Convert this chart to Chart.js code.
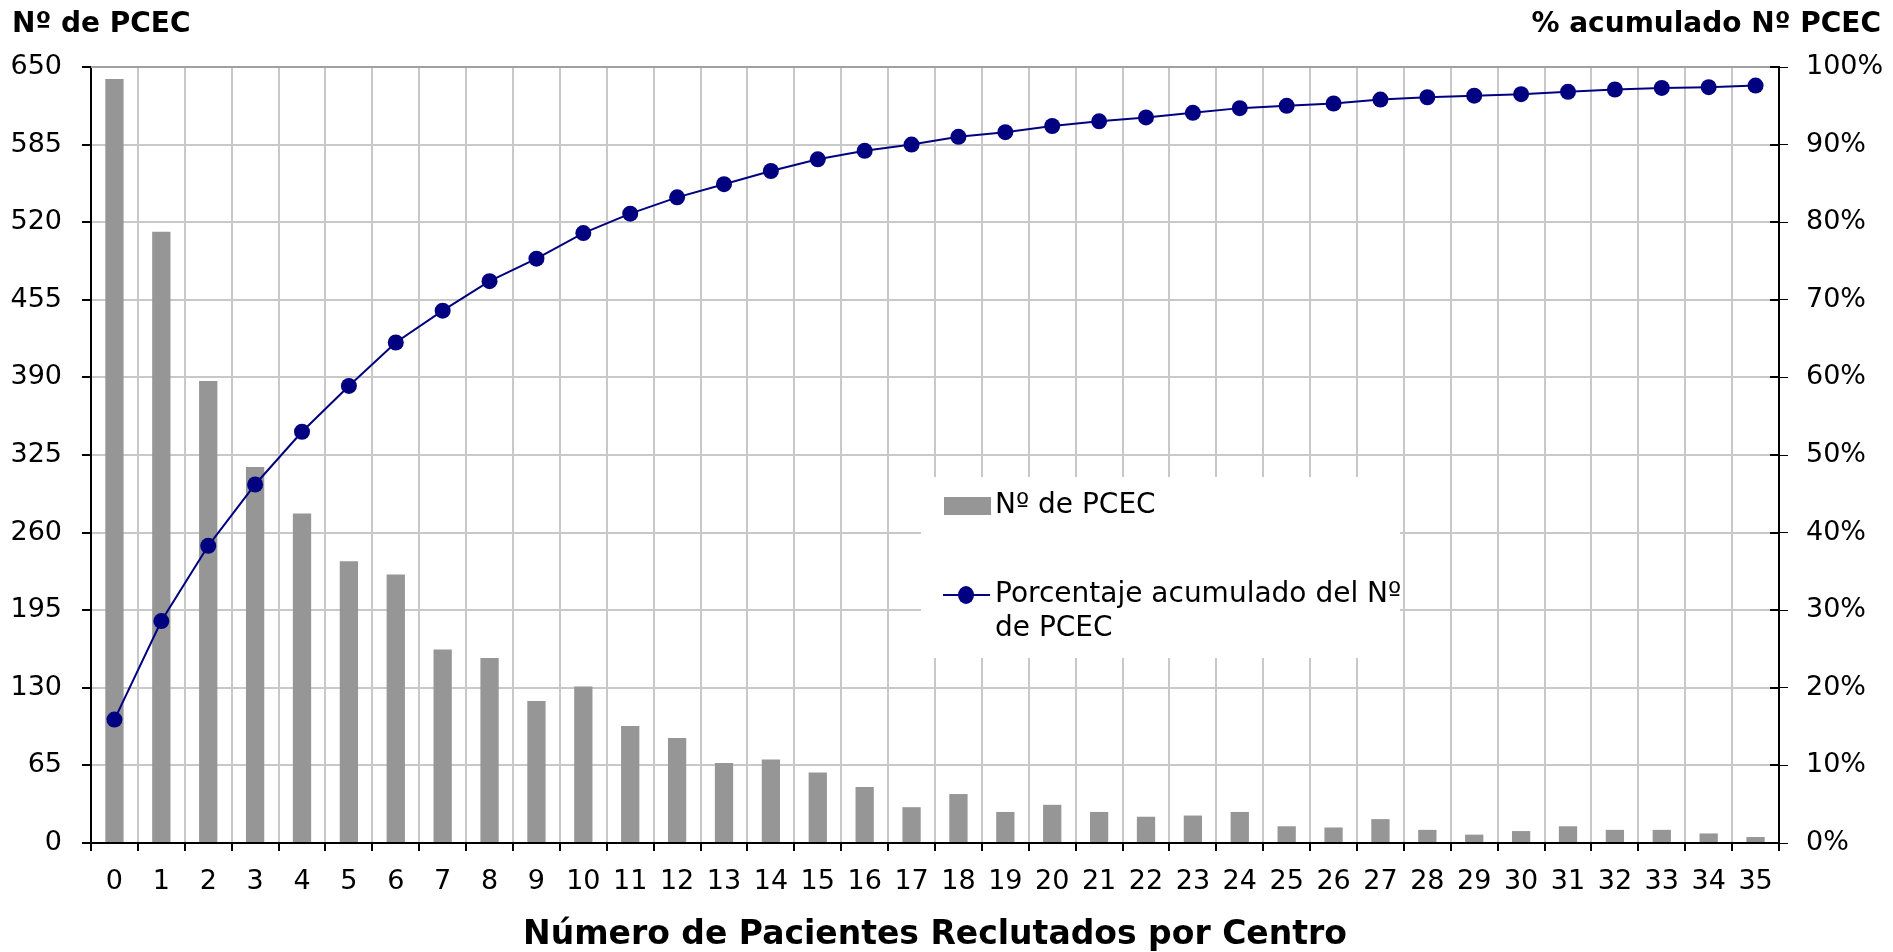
<!DOCTYPE html>
<html>
<head>
<meta charset="utf-8">
<title>Nº de PCEC según número de pacientes reclutados por centro</title>
<script src="https://cdn.jsdelivr.net/npm/chart.js@4.4.1/dist/chart.umd.min.js"></script>
<style>
  html, body { margin: 0; padding: 0; background: #fff; }
  canvas { display: block; }
</style>
</head>
<body>
<canvas id="myChart" width="1893" height="952"></canvas>
<script>
  "use strict";

  /* Data */
  const categorias = ["0", "1", "2", "3", "4", "5", "6", "7", "8", "9", "10", "11",
    "12", "13", "14", "15", "16", "17", "18", "19", "20", "21", "22", "23",
    "24", "25", "26", "27", "28", "29", "30", "31", "32", "33", "34", "35"];

  const numPCEC = [640, 512, 387, 315, 276, 236, 225, 162, 155, 119, 131, 98,
    88, 67, 70, 59, 47, 30, 41, 26, 32, 26, 22, 23,
    26, 14, 13, 20, 11, 7, 10, 14, 11, 11, 8, 5];

  const porcentajeAcumulado = [15.9, 28.6, 38.3, 46.2, 53.0, 58.9, 64.5, 68.6, 72.4, 75.3, 78.6, 81.1,
    83.2, 84.9, 86.6, 88.1, 89.2, 90.0, 91.0, 91.6, 92.4, 93.0, 93.5, 94.1,
    94.7, 95.0, 95.3, 95.8, 96.1, 96.3, 96.5, 96.8, 97.1, 97.3, 97.4, 97.6];

  const ticksPCEC = [0, 65, 130, 195, 260, 325, 390, 455, 520, 585, 650];
  const ticksPorcentaje = [0, 10, 20, 30, 40, 50, 60, 70, 80, 90, 100];

  const tituloIzq = "Nº de PCEC";
  const tituloDer = "% acumulado Nº PCEC";
  const tituloX = "Número de Pacientes Reclutados por Centro";

  const fuente = "'DejaVu Sans', Verdana, sans-serif";
  const gris = "#969696";
  const azul = "#000080";
  const rejilla = "#c8c8c8";

  /* Axis titles drawn above the plot, horizontally */
  const titulosEjes = {
    id: "titulosEjes",
    afterDraw(chart) {
      const ctx = chart.ctx;
      const area = chart.chartArea;
      ctx.save();
      // darker top frame line, like the original
      ctx.strokeStyle = "#a0a0a0";
      ctx.lineWidth = 2;
      ctx.beginPath();
      ctx.moveTo(area.left, area.top);
      ctx.lineTo(area.right, area.top);
      ctx.stroke();

      ctx.fillStyle = "#000";
      ctx.font = "bold 28px " + fuente;
      ctx.textBaseline = "middle";
      ctx.textAlign = "left";
      ctx.fillText(tituloIzq, 12, 25);
      ctx.textAlign = "right";
      ctx.fillText(tituloDer, 1881, 25);
      ctx.restore();
    },
  };

  /* Legend box that sits inside the plot, like the original */
  const leyendaInterna = {
    id: "leyendaInterna",
    afterDraw(chart) {
      const ctx = chart.ctx;
      const box = { x: 921, y: 477, w: 479, h: 181 };
      const ds = chart.data.datasets;
      ctx.save();
      ctx.fillStyle = "#fff";
      ctx.fillRect(box.x, box.y, box.w, box.h);

      ctx.font = "28px " + fuente;
      ctx.textBaseline = "middle";
      ctx.textAlign = "left";
      const textX = 995;

      // bars entry
      ctx.fillStyle = ds[0].backgroundColor;
      ctx.fillRect(944, 497, 47, 18);
      ctx.fillStyle = "#000";
      ctx.fillText(ds[0].label, textX, 506);

      // line entry
      ctx.strokeStyle = ds[1].borderColor;
      ctx.lineWidth = 2;
      ctx.beginPath();
      ctx.moveTo(943, 595);
      ctx.lineTo(990, 595);
      ctx.stroke();
      ctx.fillStyle = ds[1].pointBackgroundColor;
      ctx.beginPath();
      ctx.ellipse(966, 595, 8, 9, 0, 0, Math.PI * 2);
      ctx.fill();

      // wrap long label
      const words = ds[1].label.split(" ");
      const lines = [];
      let line = "";
      words.forEach((w) => {
        const test = line ? line + " " + w : w;
        if (ctx.measureText(test).width > 415 && line) {
          lines.push(line);
          line = w;
        } else {
          line = test;
        }
      });
      lines.push(line);
      ctx.fillStyle = "#000";
      lines.forEach((l, i) => ctx.fillText(l, textX, 595 + i * 34));
      ctx.restore();
    },
  };

  /* Right axis ticks cross the axis line in the original */
  const marcasDerecha = {
    id: "marcasDerecha",
    afterDraw(chart) {
      const s = chart.scales.y1;
      const ctx = chart.ctx;
      ctx.save();
      ctx.strokeStyle = "#000";
      ctx.lineWidth = 2;
      ctx.beginPath();
      s.ticks.forEach((t) => {
        const y = Math.round(s.getPixelForValue(t.value));
        ctx.moveTo(s.left - 9, y);
        ctx.lineTo(s.left, y);
      });
      ctx.stroke();
      ctx.restore();
    },
  };

  const canvas = document.getElementById("myChart");
  const ctx = canvas.getContext("2d");

  new Chart(ctx, {
    type: "bar",
    data: {
      labels: categorias,
      datasets: [
        {
          label: "Nº de PCEC",
          data: numPCEC,
          backgroundColor: gris,
          categoryPercentage: 1,
          barPercentage: 0.39,
          yAxisID: "y",
          order: 2,
        },
        {
          type: "line",
          label: "Porcentaje acumulado del Nº de PCEC",
          data: porcentajeAcumulado,
          borderColor: azul,
          borderWidth: 2,
          pointRadius: 8,
          pointBackgroundColor: azul,
          pointBorderWidth: 0,
          tension: 0,
          yAxisID: "y1",
          order: 1,
        },
      ],
    },
    options: {
      responsive: false,
      animation: false,
      layout: { padding: { top: 67, left: 0, right: 0, bottom: 0 } },
      plugins: {
        legend: { display: false },
        tooltip: { enabled: false },
      },
      scales: {
        x: {
          afterFit: (s) => { s.height = 109; },
          grid: {
            offset: true,
            color: rejilla,
            lineWidth: 2,
            tickColor: "#000",
            tickLength: 8,
          },
          border: { color: "#000", width: 2 },
          ticks: {
            color: "#000",
            font: { family: fuente, size: 27 },
            padding: 15,
            maxRotation: 0,
            autoSkip: false,
          },
          title: {
            display: true,
            text: tituloX,
            color: "#000",
            font: { family: fuente, size: 33, weight: "bold", lineHeight: 1 },
            padding: { top: 0, bottom: 0 },
          },
        },
        y: {
          position: "left",
          min: 0,
          max: 650,
          afterFit: (s) => { s.width = 91; },
          afterBuildTicks: (s) => { s.ticks = ticksPCEC.map((v) => ({ value: v })); },
          grid: {
            color: rejilla,
            lineWidth: 2,
            tickColor: "#000",
            tickLength: 9,
          },
          border: { color: "#000", width: 2 },
          ticks: {
            color: "#000",
            font: { family: fuente, size: 27 },
            padding: 20,
          },
        },
        y1: {
          position: "right",
          min: 0,
          max: 100,
          afterFit: (s) => { s.width = 114; },
          afterBuildTicks: (s) => { s.ticks = ticksPorcentaje.map((v) => ({ value: v })); },
          grid: {
            drawOnChartArea: false,
            tickColor: "#000",
            tickLength: 9,
          },
          border: { color: "#000", width: 2 },
          ticks: {
            color: "#000",
            font: { family: fuente, size: 27 },
            padding: 18,
            callback: (v) => v + "%",
          },
        },
      },
    },
    plugins: [titulosEjes, leyendaInterna, marcasDerecha],
  });
</script>
</body>
</html>
